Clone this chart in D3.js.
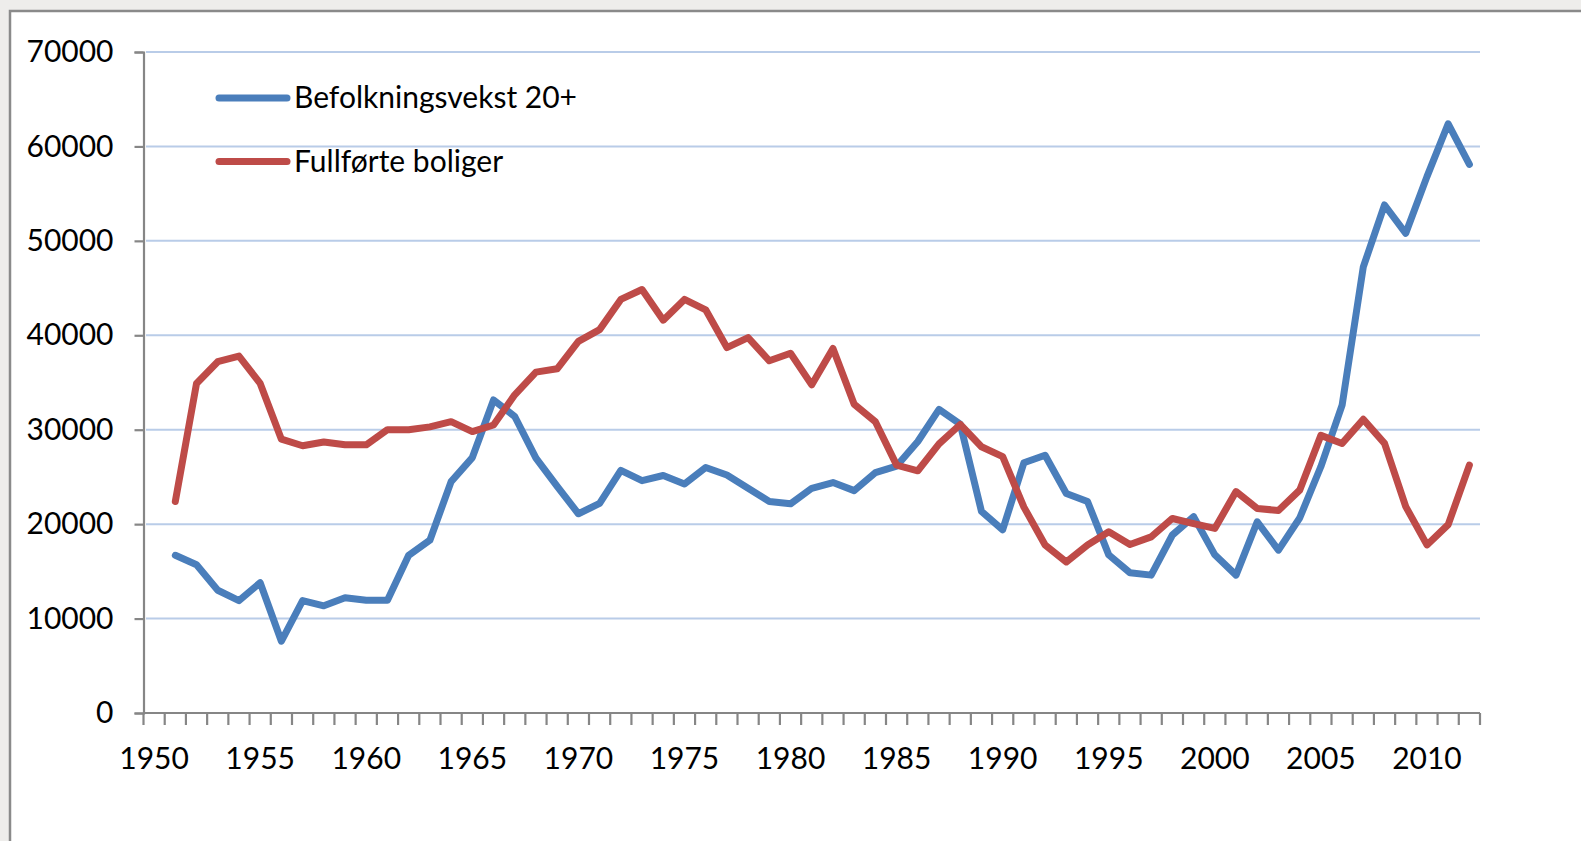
<!DOCTYPE html>
<html>
<head>
<meta charset="utf-8">
<script src="https://cdn.jsdelivr.net/npm/d3@7"></script>
<style>
  html, body { margin: 0; padding: 0; background: #eeedeb; }
  svg { display: block; }
</style>
</head>
<body>
<script>
// years on the category axis (1950 has no data)
var years = d3.range(1950, 2013);

// Befolkningsvekst 20+ (1951-2012)
var befolkning = [
  16700, 15700, 13000, 11900, 13800, 7600, 11900, 11350, 12200, 11950,
  11950, 16700, 18300, 24500, 27050, 33150, 31400, 27000, 24000, 21100,
  22200, 25700, 24600, 25150, 24250, 26000, 25200, 23800, 22400, 22150,
  23800, 24400, 23550, 25450, 26150, 28750, 32150, 30600, 21350, 19400,
  26500, 27300, 23250, 22400, 16750, 14850, 14600, 18850, 20800, 16750,
  14600, 20250, 17250, 20650, 26100, 32600, 47250, 53800, 50800, 56800,
  62400, 58100
];

// Fullførte boliger (1951-2012)
var boliger = [
  22400, 34900, 37200, 37800, 34900, 29000, 28300, 28700, 28400, 28400,
  30000, 30000, 30300, 30850, 29800, 30500, 33700, 36100, 36450, 39350,
  40600, 43800, 44850, 41600, 43800, 42700, 38700, 39750, 37300, 38100,
  34750, 38600, 32700, 30850, 26250, 25650, 28500, 30550, 28200, 27150,
  21800, 17800, 16000, 17800, 19200, 17850, 18650, 20600, 20050, 19550,
  23450, 21650, 21450, 23600, 29400, 28550, 31100, 28550, 21850, 17800,
  19950, 26250
];

var seriesNames = ["Befolkningsvekst 20+", "Fullførte boliger"];
var seriesColors = ["#4a7ebb", "#be4b48"];
var yTicks = [0, 10000, 20000, 30000, 40000, 50000, 60000, 70000];
var xLabels = [1950, 1955, 1960, 1965, 1970, 1975, 1980, 1985, 1990, 1995, 2000, 2005, 2010];

var width = 1581, height = 841;

var svg = d3.select("body").append("svg")
    .attr("width", width)
    .attr("height", height);

// white chart area with grey frame
svg.append("rect")
    .attr("x", 10).attr("y", 11)
    .attr("width", width).attr("height", height)
    .attr("fill", "#ffffff")
    .attr("stroke", "#8a8a8a")
    .attr("stroke-width", 2.5);

var x = d3.scaleBand()
    .domain(years)
    .range([143.5, 1480])
    .paddingInner(0).paddingOuter(0);

var y = d3.scaleLinear()
    .domain([0, 70000])
    .range([713, 52]);

var font = "Lato, 'Open Sans', sans-serif";
var fontSize = 30;

// gridlines
svg.append("g").selectAll("line")
    .data(yTicks.filter(function(d){ return d > 0; }))
    .enter().append("line")
    .attr("x1", 146).attr("x2", 1480)
    .attr("y1", function(d){ return y(d); })
    .attr("y2", function(d){ return y(d); })
    .attr("stroke", "#b9cce8")
    .attr("stroke-width", 2);

// y axis
var yAxis = svg.append("g")
    .attr("transform", "translate(143.5,0)")
    .call(d3.axisLeft(y).tickValues(yTicks).tickSize(9).tickPadding(21).tickFormat(d3.format("d")));
yAxis.select(".domain").attr("stroke", "#868686").attr("stroke-width", 2.2);
yAxis.selectAll(".tick line").attr("stroke", "#868686").attr("stroke-width", 2.2);
yAxis.selectAll("text")
    .attr("font-family", font).attr("font-size", fontSize).attr("fill", "#000");

// x axis: tick marks between categories
var bounds = years.map(function(d){ return x(d); }).concat([x(2012) + x.bandwidth()]);
var xg = svg.append("g");
xg.append("line")
    .attr("x1", 143.5).attr("x2", 1480)
    .attr("y1", y(0)).attr("y2", y(0))
    .attr("stroke", "#868686").attr("stroke-width", 2.2);
xg.selectAll(".xt")
    .data(bounds)
    .enter().append("line")
    .attr("class", "xt")
    .attr("x1", function(d){ return d; }).attr("x2", function(d){ return d; })
    .attr("y1", y(0)).attr("y2", y(0) + 12)
    .attr("stroke", "#868686").attr("stroke-width", 2.2);
xg.selectAll("text")
    .data(xLabels)
    .enter().append("text")
    .attr("x", function(d){ return x(d) + x.bandwidth() / 2; })
    .attr("y", 769)
    .attr("text-anchor", "middle")
    .attr("font-family", font).attr("font-size", fontSize)
    .text(function(d){ return d; });

// lines
var line = d3.line()
    .x(function(d){ return x(d.year) + x.bandwidth() / 2; })
    .y(function(d){ return y(d.value); });

[befolkning, boliger].forEach(function(vals, i){
    var pts = vals.map(function(v, j){ return { year: 1951 + j, value: v }; });
    svg.append("path")
        .datum(pts)
        .attr("d", line)
        .attr("fill", "none")
        .attr("stroke", seriesColors[i])
        .attr("stroke-width", 7)
        .attr("stroke-linejoin", "round")
        .attr("stroke-linecap", "round");
});

// legend
var legend = svg.append("g").selectAll("g")
    .data(seriesNames)
    .enter().append("g")
    .attr("transform", function(d, i){ return "translate(0," + (98 + i * 63.5) + ")"; });
legend.append("line")
    .attr("x1", 219).attr("x2", 287)
    .attr("stroke", function(d, i){ return seriesColors[i]; })
    .attr("stroke-width", 7)
    .attr("stroke-linecap", "round");
legend.append("text")
    .attr("x", 294).attr("y", 10)
    .attr("font-family", font).attr("font-size", fontSize)
    .text(function(d){ return d; });
</script>
</body>
</html>
